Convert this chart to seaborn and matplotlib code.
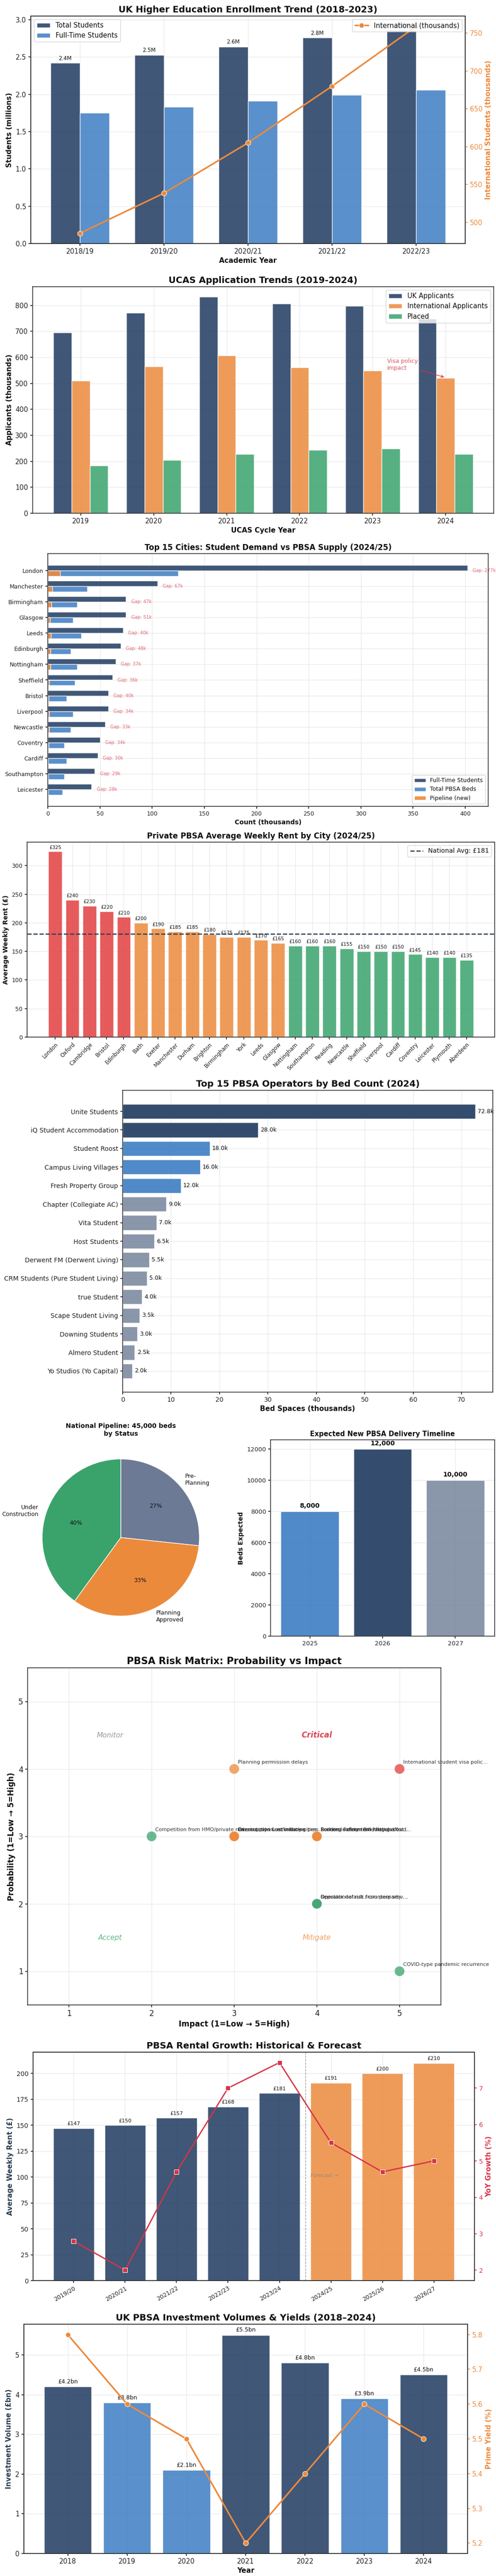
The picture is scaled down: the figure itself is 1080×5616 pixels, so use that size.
import numpy as np
import pandas as pd
import matplotlib
matplotlib.use("Agg")
import matplotlib.pyplot as plt
from matplotlib.patches import Patch
import seaborn as sns

# ---------------- data ----------------
# 1. HE enrolment
enrol_years = ["2018/19", "2019/20", "2020/21", "2021/22", "2022/23"]
enrol_total = [2.42, 2.53, 2.64, 2.76, 2.86]
enrol_fulltime = [1.75, 1.83, 1.91, 1.99, 2.06]
enrol_intl = [485.6, 538.6, 605.1, 679.9, 758.9]

# 2. UCAS applications (thousands)
ucas_years = ["2019", "2020", "2021", "2022", "2023", "2024"]
ucas_uk = [696, 771, 834, 806, 797, 749]
ucas_intl = [510, 565, 607, 562, 549, 520]
ucas_placed = [184, 204, 228, 244, 249, 228]

# 3. demand vs supply by city (thousands)
city_names = ["London", "Manchester", "Birmingham", "Glasgow", "Leeds", "Edinburgh",
              "Nottingham", "Sheffield", "Bristol", "Liverpool", "Newcastle", "Coventry",
              "Cardiff", "Southampton", "Leicester"]
city_fulltime = [402, 105, 75, 75, 72, 70, 65, 62, 58, 58, 55, 50, 48, 45, 42]
city_beds = [125, 38, 28, 24, 32, 22, 28, 26, 18, 24, 22, 16, 18, 16, 14]
city_pipeline = [12, 4.5, 3.5, 2, 3, 2.5, 2.5, 1.5, 1, 1.5, 1.2, 1, 0.6, 0.6, 0.3]

# 4. weekly rent by city (GBP)
rent_cities = ["London", "Oxford", "Cambridge", "Bristol", "Edinburgh", "Bath", "Exeter",
               "Manchester", "Durham", "Brighton", "Birmingham", "York", "Leeds", "Glasgow",
               "Nottingham", "Southampton", "Reading", "Newcastle", "Sheffield", "Liverpool",
               "Cardiff", "Coventry", "Leicester", "Plymouth", "Aberdeen"]
rent_values = [325, 240, 230, 220, 210, 200, 190, 185, 185, 180, 175, 175, 170, 165,
               160, 160, 160, 155, 150, 150, 150, 145, 140, 140, 135]
rent_national_avg = 181

# 5. operators (thousand beds)
operator_names = ["Unite Students", "iQ Student Accommodation", "Student Roost",
                  "Campus Living Villages", "Fresh Property Group", "Chapter (Collegiate AC)",
                  "Vita Student", "Host Students", "Derwent FM (Derwent Living)",
                  "CRM Students (Pure Student Living)", "true Student", "Scape Student Living",
                  "Downing Students", "Almero Student", "Yo Studios (Yo Capital)"]
operator_beds = [72.8, 28.0, 18.0, 16.0, 12.0, 9.0, 7.0, 6.5, 5.5, 5.0, 4.0, 3.5, 3.0, 2.5, 2.0]

# 6. pipeline
pipeline_status = ["Pre-\nPlanning", "Planning\nApproved", "Under\nConstruction"]
pipeline_beds = [12000, 15000, 18000]
delivery_years = ["2025", "2026", "2027"]
delivery_beds = [8000, 12000, 10000]

# 7. risks
risk_names = ["International student visa policy changes", "Planning permission delays",
              "Competition from HMO/private rentals", "Construction cost inflation",
              "Interest rate & refinancing pressure", "Oversupply in secondary cities",
              "Economic downturn hitting affordability", "Renters' Reform Bill / regulation",
              "Building safety remediation costs", "Reputational risk from poor service",
              "Operator default / counterparty risk", "COVID-type pandemic recurrence"]
risk_impact = [5, 3, 2, 3, 3, 3, 4, 4, 4, 4, 4, 5]
risk_prob = [4, 4, 3, 3, 3, 3, 3, 3, 3, 2, 2, 1]

# 8. rental growth
growth_years = ["2019/20", "2020/21", "2021/22", "2022/23", "2023/24", "2024/25", "2025/26", "2026/27"]
growth_rent = [147, 150, 157, 168, 181, 191, 200, 210]
growth_yoy = [2.8, 2.0, 4.7, 7.0, 7.7, 5.5, 4.7, 5.0]
growth_n_hist = 5

# 9. investment
invest_years = ["2018", "2019", "2020", "2021", "2022", "2023", "2024"]
invest_volume = [4.2, 3.8, 2.1, 5.5, 4.8, 3.9, 4.5]
invest_yield = [5.8, 5.6, 5.5, 5.2, 5.4, 5.6, 5.5]

# ---------------- style ----------------
NAVY = "#1E3A5F"
BLUE = "#3D7DC2"
ORANGE = "#EC8A3C"
GREEN = "#3AA36C"
RED = "#E23E3E"
SLATE = "#7D8BA0"
CRIMSON = "#D63447"
DARK = "#2C3E50"

sns.set_theme(style="whitegrid", rc={
    "axes.edgecolor": "#333333", "axes.linewidth": 1.2,
    "grid.color": "#E6E6E6", "grid.linewidth": 0.8,
    "xtick.bottom": True, "ytick.left": True,
    "xtick.major.size": 3.5, "ytick.major.size": 3.5,
    "xtick.color": "#222222", "ytick.color": "#222222",
    "axes.labelcolor": "#111111", "text.color": "#111111",
})
plt.rcParams["font.family"] = ["DejaVu Sans"]

W, H = 1080, 5616
fig = plt.figure(figsize=(W / 100, H / 100), dpi=100)


def add_ax(left, top, right, bottom):
    return fig.add_axes([left / W, 1 - bottom / H, (right - left) / W, (bottom - top) / H])


# ---- 1. enrolment ----
ax = add_ax(67, 35, 1013, 531)
enrol_df = pd.DataFrame({
    "year": enrol_years * 2,
    "students": enrol_total + enrol_fulltime,
    "kind": ["Total Students"] * 5 + ["Full-Time Students"] * 5,
})
sns.barplot(data=enrol_df, x="year", y="students", hue="kind", palette=[NAVY, BLUE],
            width=0.7, saturation=1, alpha=0.85, errorbar=None, legend=False, ax=ax)
for i, v in enumerate(enrol_total):
    ax.text(i - 0.175, v + 0.02, f"{v:.1f}M", ha="center", va="bottom", fontsize=8.5)
ax.grid(True, axis="both")
ax.set_title("UK Higher Education Enrollment Trend (2018-2023)", fontsize=14, fontweight="bold")
ax.set_xlabel("Academic Year", fontsize=11, fontweight="bold")
ax.set_ylabel("Students (millions)", fontsize=11, fontweight="bold")
ax.tick_params(labelsize=10.5)
ax.legend(handles=[Patch(facecolor=NAVY, alpha=0.85, label="Total Students"),
                   Patch(facecolor=BLUE, alpha=0.85, label="Full-Time Students")],
          loc="upper left", fontsize=10.5)
ax2 = ax.twinx()
sns.lineplot(x=np.arange(len(enrol_intl)), y=enrol_intl, color=ORANGE, marker="o", markersize=8,
             linewidth=2.5, label="International (thousands)", ax=ax2)
ax2.grid(False)
ax2.legend(loc="upper right", fontsize=10.5)
ax2.set_ylabel("International Students (thousands)", color=ORANGE, fontsize=11, fontweight="bold")
ax2.tick_params(axis="y", colors=ORANGE, labelsize=10.5)
ax2.set_ylim(472, 772.6)
ax.set_xlim(-0.585, 4.585)
ax.set_ylim(0, 3.05)

# ---- 2. UCAS ----
ax = add_ax(71, 625, 1075, 1119)
ucas_df = pd.DataFrame({
    "year": ucas_years * 3,
    "applicants": ucas_uk + ucas_intl + ucas_placed,
    "group": ["UK Applicants"] * 6 + ["International Applicants"] * 6 + ["Placed"] * 6,
})
sns.barplot(data=ucas_df, x="year", y="applicants", hue="group", palette=[NAVY, ORANGE, GREEN],
            width=0.75, saturation=1, alpha=0.85, errorbar=None, legend=False, ax=ax)
ax.grid(True, axis="both")
ax.set_xlim(-0.66, 5.66)
ax.set_ylim(0, 872)
ax.set_title("UCAS Application Trends (2019-2024)", fontsize=14, fontweight="bold")
ax.set_xlabel("UCAS Cycle Year", fontsize=11, fontweight="bold")
ax.set_ylabel("Applicants (thousands)", fontsize=11, fontweight="bold")
ax.tick_params(labelsize=10.5)
ax.legend(handles=[Patch(facecolor=c, alpha=0.85, label=l) for c, l in
                   zip([NAVY, ORANGE, GREEN], ["UK Applicants", "International Applicants", "Placed"])],
          loc="upper right", fontsize=10.5)
ax.annotate("Visa policy\nimpact", xy=(5, 522), xytext=(4.2, 572), fontsize=9, color=CRIMSON,
            alpha=0.85, ha="left", va="center",
            arrowprops=dict(arrowstyle="->", color=CRIMSON, alpha=0.85, lw=1.2))

# ---- 3. demand vs supply ----
ax = add_ax(104, 1207, 1063, 1758)
city_df = pd.DataFrame({
    "city": city_names * 2,
    "count": city_fulltime + city_beds,
    "kind": ["Full-Time Students"] * 15 + ["Total PBSA Beds"] * 15,
})
sns.barplot(data=city_df, x="count", y="city", hue="kind", palette=[NAVY, BLUE], orient="h",
            width=0.7, saturation=1, alpha=0.85, errorbar=None, legend=False, ax=ax)
ax.barh(np.arange(len(city_names)) + 0.175, city_pipeline, height=0.35, color=ORANGE, alpha=0.9)
for i, (ft, beds) in enumerate(zip(city_fulltime, city_beds)):
    ax.text(ft + 5, i, f"Gap: {ft - beds:.0f}k", va="center", fontsize=7, color=CRIMSON, alpha=0.75)
ax.grid(True, axis="both")
ax.set_xlim(0, 422)
ax.set_ylim(len(city_names) - 1 + 1.085, -1.085)
ax.set_title("Top 15 Cities: Student Demand vs PBSA Supply (2024/25)", fontsize=12, fontweight="bold")
ax.set_xlabel("Count (thousands)", fontsize=10, fontweight="bold")
ax.set_ylabel("")
ax.tick_params(labelsize=9)
ax.legend(handles=[Patch(facecolor=NAVY, alpha=0.85, label="Full-Time Students"),
                   Patch(facecolor=BLUE, alpha=0.85, label="Total PBSA Beds"),
                   Patch(facecolor=ORANGE, alpha=0.9, label="Pipeline (new)")],
          loc="lower right", fontsize=9)

# ---- 4. rent by city ----
ax = add_ax(59, 1836, 1077, 2261)
rent_colors = [RED if v > 200 else ORANGE if v > 160 else GREEN for v in rent_values]
sns.barplot(x=rent_cities, y=rent_values, hue=rent_cities, palette=rent_colors, legend=False,
            width=0.8, saturation=1, alpha=0.85, ax=ax)
for i, v in enumerate(rent_values):
    ax.text(i, v + 3, f"£{v}", ha="center", va="bottom", fontsize=7.5)
ax.axhline(rent_national_avg, color=DARK, linestyle="--", linewidth=1.8,
           label=f"National Avg: £{rent_national_avg}")
ax.legend(loc="upper right", fontsize=10)
ax.grid(True, axis="both")
ax.set_xlim(-1.64, 25.64)
ax.set_ylim(0, 341.25)
ax.set_title("Private PBSA Average Weekly Rent by City (2024/25)", fontsize=12, fontweight="bold")
ax.set_ylabel("Average Weekly Rent (£)", fontsize=10, fontweight="bold")
ax.tick_params(axis="y", labelsize=9)
ax.tick_params(axis="x", labelsize=8.5, rotation=45)
for lbl in ax.get_xticklabels():
    lbl.set_ha("right")
    lbl.set_rotation_mode("anchor")

# ---- 5. operators ----
ax = add_ax(267, 2377, 1073, 3035)
op_colors = [NAVY] * 2 + [BLUE] * 3 + [SLATE] * (len(operator_names) - 5)
sns.barplot(x=operator_beds, y=operator_names, hue=operator_names, palette=op_colors, orient="h",
            legend=False, width=0.8, saturation=1, alpha=0.9, ax=ax)
for i, v in enumerate(operator_beds):
    ax.text(v + 0.5, i, f"{v:.1f}k", va="center", fontsize=9)
ax.grid(True, axis="both")
ax.set_xlim(0, 76.44)
ax.set_ylim(len(operator_names) - 1 + 1.14, -1.14)
ax.set_title("Top 15 PBSA Operators by Bed Count (2024)", fontsize=14, fontweight="bold")
ax.set_xlabel("Bed Spaces (thousands)", fontsize=11, fontweight="bold")
ax.tick_params(labelsize=10)

# ---- 6a. pipeline pie ----
ax = add_ax(49, 3138, 477, 3566)
ax.pie(pipeline_beds, labels=pipeline_status, colors=["#6C7A95", ORANGE, GREEN],
       autopct="%1.0f%%", startangle=90, counterclock=False, pctdistance=0.6,
       labeldistance=1.1, textprops={"fontsize": 9})
ax.set_title("National Pipeline: 45,000 beds\nby Status", fontsize=10, fontweight="bold")

# ---- 6b. delivery timeline ----
ax = add_ax(589, 3139, 1077, 3567)
sns.barplot(x=delivery_years, y=delivery_beds, hue=delivery_years, palette=[BLUE, NAVY, SLATE],
            legend=False, width=0.8, saturation=1, alpha=0.9, ax=ax)
for i, v in enumerate(delivery_beds):
    ax.text(i, v + 150, f"{v:,}", ha="center", va="bottom", fontsize=10, fontweight="bold")
ax.grid(True, axis="both")
ax.set_xlim(-0.54, 2.54)
ax.set_ylim(0, 12600)
ax.set_title("Expected New PBSA Delivery Timeline", fontsize=10.5, fontweight="bold")
ax.set_ylabel("Beds Expected", fontsize=10, fontweight="bold")
ax.tick_params(labelsize=9.5)

# ---- 7. risk matrix ----
ax = add_ax(60, 3636, 960, 4371)
risk_df = pd.DataFrame({"impact": risk_impact, "prob": risk_prob})
score = risk_df["impact"] * risk_df["prob"]
risk_df["level"] = np.where(score >= 15, "high", np.where(score >= 9, "medium", "low"))
sns.scatterplot(data=risk_df, x="impact", y="prob", hue="level",
                palette={"high": RED, "medium": ORANGE, "low": GREEN},
                s=260, alpha=0.75, edgecolor="white", linewidth=1, legend=False, ax=ax)
for name, x, y in zip(risk_names, risk_impact, risk_prob):
    short = name if len(name) <= 32 else name[:32] + "..."
    ax.annotate(short, (x, y), xytext=(6, 7), textcoords="offset points", fontsize=8,
                va="bottom", alpha=0.85)
ax.text(1.5, 4.5, "Monitor", ha="center", va="center", fontsize=11, style="italic", color="gray", alpha=0.8)
ax.text(4, 4.5, "Critical", ha="center", va="center", fontsize=12, style="italic",
        fontweight="bold", color=CRIMSON, alpha=0.9)
ax.text(1.5, 1.5, "Accept", ha="center", va="center", fontsize=11, style="italic", color=GREEN, alpha=0.8)
ax.text(4, 1.5, "Mitigate", ha="center", va="center", fontsize=11, style="italic", color=ORANGE, alpha=0.8)
ax.set_xlim(0.5, 5.5)
ax.set_ylim(0.5, 5.5)
ax.set_xticks([1, 2, 3, 4, 5])
ax.set_yticks([1, 2, 3, 4, 5])
ax.set_title("PBSA Risk Matrix: Probability vs Impact", fontsize=15, fontweight="bold")
ax.set_xlabel("Impact (1=Low → 5=High)", fontsize=12, fontweight="bold")
ax.set_ylabel("Probability (1=Low → 5=High)", fontsize=12, fontweight="bold")
ax.tick_params(labelsize=12)

# ---- 8. rental growth ----
ax = add_ax(72, 4474, 1033, 4972)
growth_colors = [NAVY] * growth_n_hist + [ORANGE] * (len(growth_years) - growth_n_hist)
sns.barplot(x=growth_years, y=growth_rent, hue=growth_years, palette=growth_colors, legend=False,
            width=0.8, saturation=1, alpha=0.85, ax=ax)
for i, v in enumerate(growth_rent):
    ax.text(i, v + 2, f"£{v}", ha="center", va="bottom", fontsize=8)
ax.axvline(growth_n_hist - 0.5, color="gray", linestyle="--", linewidth=1, alpha=0.8)
ax.text(growth_n_hist - 0.4, 100, "Forecast →", fontsize=8, style="italic", color="gray", alpha=0.8)
ax.grid(True, axis="both")
ax.set_title("PBSA Rental Growth: Historical & Forecast", fontsize=14, fontweight="bold")
ax.set_ylabel("Average Weekly Rent (£)", fontsize=11, fontweight="bold", color=DARK)
ax.tick_params(axis="y", labelsize=10)
ax.tick_params(axis="x", labelsize=9, rotation=30)
for lbl in ax.get_xticklabels():
    lbl.set_ha("right")
    lbl.set_rotation_mode("anchor")
ax2 = ax.twinx()
sns.lineplot(x=np.arange(len(growth_yoy)), y=growth_yoy, color=CRIMSON, marker="s", markersize=7,
             linewidth=2, ax=ax2)
ax2.grid(False)
ax2.set_ylabel("YoY Growth (%)", color=CRIMSON, fontsize=11, fontweight="bold")
ax2.tick_params(axis="y", colors=CRIMSON, labelsize=10)
ax2.set_ylim(1.715, 7.985)
ax.set_xlim(-0.79, 7.79)
ax.set_ylim(0, 220.5)

# ---- 9. investment ----
ax = add_ax(52, 5067, 1018, 5567)
inv_colors = [NAVY if v >= 4 else BLUE for v in invest_volume]
sns.barplot(x=invest_years, y=invest_volume, hue=invest_years, palette=inv_colors, legend=False,
            width=0.8, saturation=1, alpha=0.85, ax=ax)
for i, v in enumerate(invest_volume):
    ax.text(i, v + 0.05, f"£{v:.1f}bn", ha="center", va="bottom", fontsize=9)
ax.grid(True, axis="both")
ax.set_title("UK PBSA Investment Volumes & Yields (2018–2024)", fontsize=14, fontweight="bold")
ax.set_xlabel("Year", fontsize=11, fontweight="bold")
ax.set_ylabel("Investment Volume (£bn)", fontsize=11, fontweight="bold", color=DARK)
ax.tick_params(labelsize=10.5)
ax2 = ax.twinx()
sns.lineplot(x=np.arange(len(invest_yield)), y=invest_yield, color=ORANGE, marker="o", markersize=8,
             linewidth=2.5, ax=ax2)
ax2.grid(False)
ax2.set_ylabel("Prime Yield (%)", color=ORANGE, fontsize=11, fontweight="bold")
ax2.tick_params(axis="y", colors=ORANGE, labelsize=10.5)
ax2.set_ylim(5.17, 5.83)
ax.set_xlim(-0.74, 6.74)
ax.set_ylim(0, 5.775)

fig.savefig("out.png", dpi=100)
